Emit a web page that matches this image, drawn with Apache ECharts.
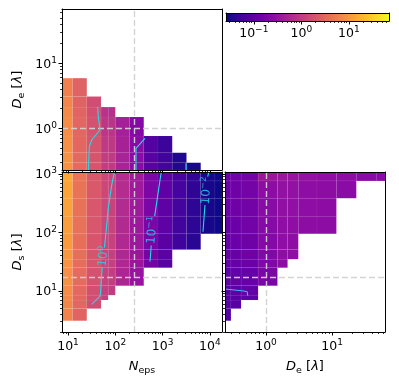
<!DOCTYPE html>
<html>
<head>
<meta charset="utf-8">
<script src="https://cdn.jsdelivr.net/npm/echarts@6/dist/echarts.min.js"></script>
<style>
  html, body { margin: 0; padding: 0; background: #fff; }
  #chart { width: 399px; height: 387px; }
</style>
</head>
<body>
<div id="chart"></div>
<script>
// bin edges (real units)
const nepsEdges = [6.25, 12.5, 25, 50, 70.7, 100, 200, 400, 800, 1600, 3200, 6400, 12800, 25600]
const deEdges = [0.2, 0.295, 0.42, 0.76, 1.49, 2.12, 3.08, 5.9, 11.6, 23.2, 46.4, 93]
const dsEdges = [3.1, 5.0, 7.0, 8.5, 12.3, 25, 35, 51, 95, 190, 385, 760, 1600]

// axis ranges
const nepsRange = [7.47, 18030]
const deRangeTop = [0.228, 68.4]
const deRangeRight = [0.24, 63]
const dsRange = [1.99, 1080]
const colorRange = [0.026, 70]

// reference (dashed) lines
const nepsRef = 260
const deRef = 1.0
const dsRef = 17.5

// top-left: rows = D_e bins (low -> high), cols = N_eps bins
const topLeftValues = [
  [9.0, 3.4, 2.0, 1.0, 0.95, 0.5, 0.25, 0.09, 0.058, 0.036, 0.03, null, null],
  [9.0, 3.3, 2.0, 1.0, 0.95, 0.5, 0.25, 0.09, 0.056, 0.035, null, null, null],
  [8.6, 3.2, 1.9, 0.95, 0.9, 0.48, 0.24, 0.085, 0.054, null, null, null, null],
  [8.0, 3.1, 1.8, 0.85, 0.8, 0.45, 0.22, null, null, null, null, null, null],
  [7.4, 3.0, 1.7, 0.75, 0.7, null, null, null, null, null, null, null, null],
  [6.8, 2.9, 1.6, null, null, null, null, null, null, null, null, null, null],
  [6.0, 2.8, null, null, null, null, null, null, null, null, null, null, null]
]

// bottom-left: rows = D_s bins, cols = N_eps bins
const bottomLeftValues = [
  [6.5, 3.0, null, null, null, null, null, null, null, null, null, null, null],
  [7.0, 3.1, 1.6, null, null, null, null, null, null, null, null, null, null],
  [7.5, 3.2, 1.65, 1.1, null, null, null, null, null, null, null, null, null],
  [8.0, 3.3, 1.7, 1.1, 1.0, null, null, null, null, null, null, null, null],
  [8.8, 3.5, 1.8, 1.15, 1.05, 0.55, 0.34, null, null, null, null, null, null],
  [9.5, 3.7, 1.9, 1.2, 1.1, 0.57, 0.35, 0.16, 0.09, null, null, null, null],
  [10.2, 3.8, 2.0, 1.2, 1.1, 0.58, 0.36, 0.16, 0.092, null, null, null, null],
  [11, 3.9, 2.0, 1.25, 1.15, 0.6, 0.37, 0.17, 0.095, 0.056, 0.04, null, null],
  [12, 4.1, 2.1, 1.3, 1.2, 0.62, 0.38, 0.18, 0.1, 0.06, 0.042, 0.03, 0.026],
  [13, 4.2, 2.1, 1.3, 1.2, 0.63, 0.39, 0.18, 0.1, 0.062, 0.043, 0.03, 0.026],
  [14, 4.3, 2.2, 1.35, 1.25, 0.65, 0.4, 0.19, 0.105, 0.064, 0.044, 0.03, 0.026],
  [15, 4.4, 2.2, 1.35, 1.25, 0.65, 0.4, 0.19, 0.105, 0.065, 0.045, 0.03, 0.026]
]

// bottom-right: rows = D_s bins, cols = D_e bins
const bottomRightValues = [
  [0.08, null, null, null, null, null, null, null, null, null, null],
  [0.085, 0.09, null, null, null, null, null, null, null, null, null],
  [0.09, 0.095, 0.1, null, null, null, null, null, null, null, null],
  [0.095, 0.1, 0.11, null, null, null, null, null, null, null, null],
  [0.1, 0.11, 0.12, 0.18, null, null, null, null, null, null, null],
  [0.11, 0.12, 0.13, 0.2, 0.26, null, null, null, null, null, null],
  [0.11, 0.12, 0.14, 0.21, 0.27, 0.27, null, null, null, null, null],
  [0.12, 0.13, 0.14, 0.22, 0.28, 0.28, null, null, null, null, null],
  [0.12, 0.13, 0.15, 0.23, 0.28, 0.28, 0.26, 0.26, null, null, null],
  [0.13, 0.14, 0.15, 0.24, 0.29, 0.29, 0.27, 0.26, null, null, null],
  [0.13, 0.14, 0.16, 0.26, 0.3, 0.3, 0.27, 0.26, 0.25, null, null],
  [0.14, 0.15, 0.16, 0.36, 0.36, 0.34, 0.3, 0.28, 0.26, 0.24, 0.24]
]

// contour lines, [x, y] in real units, null = gap for the label
const tlContourA = [[26.8, 0.2], [28.2, 0.52], [31.7, 0.66], [47.5, 0.94], [43.7, 1.51], [42.4, 2.15]]
const tlContourB = [[274, 0.2], [274, 0.49], [298, 0.52], [425, 0.7]]
const tlContourC = [[3125, 0.2], [3125, 0.29]]
const blContour0 = [[31.7, 5.9], [47.5, 8.2], [49, 9.7], [51.5, 18.7], [53, 25], null, [59, 55], [65.8, 134], [71, 259], [84, 646], [96, 1100]]
const blContour1 = [[542, 31.8], [575, 60], null, [680, 190], [811, 498], [940, 1100]]
const blContour2 = [[7140, 103], [7870, 295], null, [9000, 900], [9500, 1100]]
const brContour = [[0.24, 10.8], [0.46, 10], [0.52, 9.7], [0.53, 8.3]]

// contour labels: text exponent, position, rotation
const contourLabels = [
  { exp: '0', at: [53.6, 39], rot: 84 },
  { exp: '−1', at: [582, 110], rot: 85 },
  { exp: '−2', at: [8100, 520], rot: 86 }
]

const FONT = 'DejaVu Sans'
const CYAN = '#22dbe8'
const lg = Math.log10

// plasma colormap
const plasmaStops = ['#0d0887', '#41049d', '#6a00a8', '#8f0da4', '#b12a90', '#cc4778',
  '#e16462', '#f2844b', '#fca636', '#fcce25', '#f0f921']

function hexRgb(h) {
  return [parseInt(h.slice(1, 3), 16), parseInt(h.slice(3, 5), 16), parseInt(h.slice(5, 7), 16)]
}

function plasma(lv) {
  const lo = lg(colorRange[0]), hi = lg(colorRange[1])
  let t = (lv - lo) / (hi - lo)
  t = Math.max(0, Math.min(1, t)) * (plasmaStops.length - 1)
  const i = Math.min(Math.floor(t), plasmaStops.length - 2)
  const f = t - i
  const a = hexRgb(plasmaStops[i]), b = hexRgb(plasmaStops[i + 1])
  const c = a.map((v, k) => Math.round(v + (b[k] - v) * f))
  return `rgb(${c[0]},${c[1]},${c[2]})`
}

// cells -> [x0, x1, y0, y1, logValue]
function cells(xEdges, yEdges, values) {
  const out = []
  values.forEach((row, j) => {
    row.forEach((v, i) => {
      if (v == null) return
      out.push([lg(xEdges[i]), lg(xEdges[i + 1]), lg(yEdges[j]), lg(yEdges[j + 1]), lg(v)])
    })
  })
  return out
}

function renderCell(params, api) {
  const p0 = api.coord([api.value(0), api.value(2)])
  const p1 = api.coord([api.value(1), api.value(3)])
  const cs = params.coordSys
  const shape = echarts.graphic.clipRectByRect(
    { x: p0[0], y: p1[1], width: p1[0] - p0[0], height: p0[1] - p1[1] },
    { x: cs.x, y: cs.y, width: cs.width, height: cs.height }
  )
  if (!shape) return
  return {
    type: 'rect',
    shape: shape,
    style: { fill: plasma(api.value(4)), stroke: 'rgba(255,255,255,0.08)', lineWidth: 0.6 }
  }
}

function toLog(pts) {
  return pts.map((p) => (p ? [lg(p[0]), lg(p[1])] : [null, null]))
}

// tick helpers
function majors(lo, hi) {
  const out = []
  for (let e = Math.ceil(lo); e <= Math.floor(hi); e++) out.push(e)
  return out
}
function minors(lo, hi) {
  const out = []
  for (let e = Math.floor(lo) - 1; e <= Math.ceil(hi); e++) {
    for (let k = 2; k < 10; k++) {
      const v = e + lg(k)
      if (v > lo && v < hi) out.push(v)
    }
  }
  return out
}

const tickRich = {
  b: { fontFamily: FONT, fontSize: 12.5, color: '#000', lineHeight: 15, padding: [2, 0, 0, 0], verticalAlign: 'top' },
  p: { fontFamily: FONT, fontSize: 9, color: '#000', lineHeight: 10, verticalAlign: 'top' }
}
const nameRich = {
  i: { fontFamily: FONT, fontStyle: 'italic', fontSize: 13, color: '#000', lineHeight: 15, verticalAlign: 'top' },
  r: { fontFamily: FONT, fontSize: 13, color: '#000', lineHeight: 15, verticalAlign: 'top' },
  s: { fontFamily: FONT, fontSize: 9.5, color: '#000', lineHeight: 11, padding: [6, 0, 0, 0], verticalAlign: 'top' }
}

function expLabel(v) {
  return '{b|10}{p|' + String(Math.round(v)).replace('-', '−') + '}'
}

// three axes per side: major (+labels), minor ticks, far frame line
function axes(dim, gridIndex, range, opts) {
  const lo = lg(range[0]), hi = lg(range[1])
  const base = { type: 'value', gridIndex: gridIndex, min: lo, max: hi, z: 10, splitLine: { show: false } }
  const frame = { show: true, onZero: false, lineStyle: { color: '#000', width: 1 } }
  return [
    Object.assign({}, base, {
      position: dim === 'x' ? 'bottom' : 'left',
      axisLine: frame,
      axisTick: { show: true, customValues: majors(lo, hi), length: 3.5, lineStyle: { color: '#000', width: 1 } },
      axisLabel: {
        show: !!opts.labels, customValues: majors(lo, hi), formatter: expLabel, rich: tickRich,
        margin: opts.margin || 5
      },
      name: opts.name || '',
      nameLocation: 'middle',
      nameGap: opts.nameGap || 0,
      nameRotate: dim === 'y' ? 90 : 0,
      nameTextStyle: { rich: nameRich }
    }),
    Object.assign({}, base, {
      position: dim === 'x' ? 'bottom' : 'left',
      axisLine: { show: false, onZero: false },
      axisTick: { show: true, customValues: minors(lo, hi), length: 2, lineStyle: { color: '#000', width: 0.8 } },
      axisLabel: { show: false }
    }),
    Object.assign({}, base, {
      position: dim === 'x' ? 'top' : 'right',
      axisLine: frame,
      axisTick: { show: false },
      axisLabel: { show: false }
    })
  ]
}

const dashStyle = { color: 'rgba(210,210,210,0.95)', width: 1.4, type: [6, 3] }
function refLines(items) {
  return {
    silent: true,
    symbol: ['none', 'none'],
    label: { show: false },
    lineStyle: dashStyle,
    data: items
  }
}

function contourSeries(xi, yi, pts, color) {
  return {
    type: 'line', xAxisIndex: xi, yAxisIndex: yi, data: toLog(pts),
    showSymbol: false, connectNulls: false, z: 6,
    lineStyle: { color: color || CYAN, width: 1.1 }
  }
}

const cbFrame = { show: true, onZero: false, lineStyle: { color: '#000', width: 1 } }

const xAxes = []
  .concat(axes('x', 0, nepsRange, {}))
  .concat(axes('x', 1, nepsRange, { labels: true, margin: 6, name: '{i|N}{s|eps}', nameGap: 28 }))
  .concat(axes('x', 2, deRangeRight, { labels: true, margin: 6, name: '{i|D}{s|e}{r| [}{i|λ}{r|]}', nameGap: 28 }))
  .concat(axes('x', 3, colorRange, { labels: true, margin: 4 }))

const yAxes = []
  .concat(axes('y', 0, deRangeTop, { labels: true, name: '{i|D}{s|e}{r| [}{i|λ}{r|]}', nameGap: 36 }))
  .concat(axes('y', 1, dsRange, { labels: true, name: '{i|D}{s|s}{r| [}{i|λ}{r|]}', nameGap: 36 }))
  .concat(axes('y', 2, dsRange, {}))
  .concat([
    { type: 'value', gridIndex: 3, min: 0, max: 1, position: 'left', z: 10, splitLine: { show: false },
      axisLine: cbFrame, axisTick: { show: false }, axisLabel: { show: false } },
    { type: 'value', gridIndex: 3, min: 0, max: 1, position: 'right', z: 10, splitLine: { show: false },
      axisLine: cbFrame, axisTick: { show: false }, axisLabel: { show: false } }
  ])

const labelRich = {
  b: { fontFamily: FONT, fontSize: 12, color: CYAN, lineHeight: 14, padding: [2, 0, 0, 0], verticalAlign: 'top' },
  p: { fontFamily: FONT, fontSize: 8.5, color: CYAN, lineHeight: 10, verticalAlign: 'top' }
}

const series = [
  // heatmaps
  {
    type: 'custom', xAxisIndex: 0, yAxisIndex: 0, renderItem: renderCell,
    data: cells(nepsEdges, deEdges, topLeftValues), encode: { x: [0, 1], y: [2, 3] }, z: 2,
    markLine: refLines([{ xAxis: lg(nepsRef) }, { yAxis: lg(deRef) }])
  },
  {
    type: 'custom', xAxisIndex: 3, yAxisIndex: 3, renderItem: renderCell,
    data: cells(nepsEdges, dsEdges, bottomLeftValues), encode: { x: [0, 1], y: [2, 3] }, z: 2,
    markLine: refLines([{ xAxis: lg(nepsRef) }, { yAxis: lg(dsRef) }])
  },
  {
    type: 'custom', xAxisIndex: 6, yAxisIndex: 6, renderItem: renderCell,
    data: cells(deEdges, dsEdges, bottomRightValues), encode: { x: [0, 1], y: [2, 3] }, z: 2,
    markLine: refLines([{ xAxis: lg(deRef) }, { yAxis: lg(dsRef) }])
  },
  // colorbar
  {
    type: 'custom', xAxisIndex: 9, yAxisIndex: 9,
    data: [[lg(colorRange[0]), lg(colorRange[1])]],
    renderItem: function (params, api) {
      const p0 = api.coord([api.value(0), 0])
      const p1 = api.coord([api.value(1), 1])
      const stops = plasmaStops.map((c, k) => ({ offset: k / (plasmaStops.length - 1), color: c }))
      return {
        type: 'rect',
        shape: { x: p0[0], y: p1[1], width: p1[0] - p0[0], height: p0[1] - p1[1] },
        style: { fill: new echarts.graphic.LinearGradient(0, 0, 1, 0, stops) }
      }
    }
  },
  // contours
  contourSeries(0, 0, tlContourA),
  contourSeries(0, 0, tlContourB),
  contourSeries(0, 0, tlContourC),
  contourSeries(3, 3, blContour0),
  contourSeries(3, 3, blContour1),
  contourSeries(3, 3, blContour2),
  contourSeries(6, 6, brContour, '#3cb8ea'),
  // contour labels
  {
    type: 'scatter', xAxisIndex: 3, yAxisIndex: 3, z: 7, symbolSize: 1,
    itemStyle: { color: 'rgba(0,0,0,0)' },
    data: contourLabels.map((c) => ({
      value: [lg(c.at[0]), lg(c.at[1])],
      label: { rotate: c.rot, formatter: '{b|10}{p|' + c.exp + '}' }
    })),
    label: { show: true, position: 'inside', rich: labelRich }
  }
]

const chart = echarts.init(document.getElementById('chart'), null, { renderer: 'canvas' })
chart.setOption({
  animation: false,
  backgroundColor: '#fff',
  grid: [
    { left: 62, top: 9, width: 160, height: 161 },
    { left: 62, top: 172, width: 160, height: 160 },
    { left: 225, top: 172, width: 160, height: 160 },
    { left: 226, top: 13, width: 163, height: 8 }
  ],
  xAxis: xAxes,
  yAxis: yAxes,
  series: series
})
</script>
</body>
</html>
